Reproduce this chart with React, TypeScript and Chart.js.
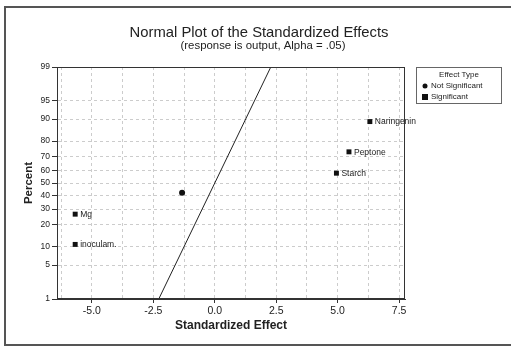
import React, { useEffect, useRef } from 'react';
import { Chart, registerables } from 'chart.js';
Chart.register(...registerables);

// ---- data ----
const effectNames = ['Naringenin', 'Peptone', 'Starch', '', 'Mg', 'inoculam.'];
const effectValues = [6.31, 5.46, 4.95, -1.33, -5.68, -5.68];
const effectPercents = [89.1, 73.4, 57.8, 42.2, 26.6, 10.9];
const effectSignificant = [true, true, true, false, true, true];
const percentTicks = [1, 5, 10, 20, 30, 40, 50, 60, 70, 80, 90, 95, 99];
const xTickValues = [-5, -2.5, 0, 2.5, 5, 7.5];
const xMinorStep = 1.25;
const xRange = [-6.42, 7.74];
const lineMean = 0;
const lineSigma = 0.98;
const linePercents = [0.5, 99.5];

const FONT = "'Liberation Sans', Arial, sans-serif";

// inverse normal CDF (Acklam)
function probit(p: number): number {
  const a = [-3.969683028665376e1, 2.209460984245205e2, -2.759285104469687e2, 1.38357751867269e2, -3.066479806614716e1, 2.506628277459239];
  const b = [-5.447609879822406e1, 1.615858368580409e2, -1.556989798598866e2, 6.680131188771972e1, -1.328068155288572e1];
  const c = [-7.784894002430293e-3, -3.223964580411365e-1, -2.400758277161838, -2.549732539343734, 4.374664141464968, 2.938163982698783];
  const d = [7.784695709041462e-3, 3.224671290700398e-1, 2.445134137142996, 3.754408661907416];
  const pl = 0.02425;
  if (p < pl) {
    const q = Math.sqrt(-2 * Math.log(p));
    return (((((c[0] * q + c[1]) * q + c[2]) * q + c[3]) * q + c[4]) * q + c[5]) / ((((d[0] * q + d[1]) * q + d[2]) * q + d[3]) * q + 1);
  }
  if (p > 1 - pl) {
    const q = Math.sqrt(-2 * Math.log(1 - p));
    return -(((((c[0] * q + c[1]) * q + c[2]) * q + c[3]) * q + c[4]) * q + c[5]) / ((((d[0] * q + d[1]) * q + d[2]) * q + d[3]) * q + 1);
  }
  const q = p - 0.5;
  const r = q * q;
  return (((((a[0] * r + a[1]) * r + a[2]) * r + a[3]) * r + a[4]) * r + a[5]) * q / (((((b[0] * r + b[1]) * r + b[2]) * r + b[3]) * r + b[4]) * r + 1);
}
const pz = (pct: number) => probit(pct / 100);

export default function App() {
  const ref = useRef<HTMLCanvasElement | null>(null);

  useEffect(() => {
    document.body.style.margin = '0';
    const canvas = ref.current!;
    const sigPts: any[] = [];
    const nsPts: any[] = [];
    effectValues.forEach((v, i) => {
      const pt = { x: v, y: pz(effectPercents[i]), label: effectNames[i] };
      (effectSignificant[i] ? sigPts : nsPts).push(pt);
    });
    const linePts = linePercents.map((p) => ({ x: lineMean + lineSigma * pz(p), y: pz(p) }));

    const decor = {
      id: 'decor',
      beforeDraw(chart: any) {
        const { ctx } = chart;
        ctx.save();
        ctx.fillStyle = '#fff';
        ctx.fillRect(0, 0, chart.width, chart.height);
        ctx.restore();
      },
      afterDatasetsDraw(chart: any) {
        const { ctx } = chart;
        ctx.save();
        ctx.font = `8.5px ${FONT}`;
        ctx.fillStyle = '#222';
        ctx.textBaseline = 'middle';
        ctx.textAlign = 'left';
        chart.data.datasets.forEach((ds: any, di: number) => {
          if (ds.type === 'line') return;
          const meta = chart.getDatasetMeta(di);
          meta.data.forEach((el: any, j: number) => {
            const lbl = ds.data[j].label;
            if (lbl) ctx.fillText(lbl, el.x + 5, el.y + 0.5);
          });
        });
        ctx.restore();
      },
      afterDraw(chart: any) {
        const { ctx, chartArea: ca } = chart;
        ctx.save();
        // plot frame
        ctx.strokeStyle = '#333';
        ctx.lineWidth = 1;
        ctx.strokeRect(Math.round(ca.left) + 0.5, Math.round(ca.top) + 0.5, Math.round(ca.right - ca.left) - 1, Math.round(ca.bottom - ca.top) - 1);
        // figure frame
        ctx.strokeStyle = '#555';
        ctx.lineWidth = 2;
        ctx.beginPath();
        ctx.moveTo(511, 7);
        ctx.lineTo(5, 7);
        ctx.lineTo(5, 345);
        ctx.lineTo(511, 345);
        ctx.stroke();
        // titles
        ctx.fillStyle = '#222';
        ctx.textAlign = 'center';
        ctx.textBaseline = 'middle';
        ctx.font = `14.8px ${FONT}`;
        ctx.fillText('Normal Plot of the Standardized Effects', 259, 33);
        ctx.font = `11.4px ${FONT}`;
        ctx.fillText('(response is output, Alpha = .05)', 263, 46);
        // legend
        ctx.strokeStyle = '#666';
        ctx.lineWidth = 1;
        ctx.strokeRect(416.5, 67.5, 85, 36);
        ctx.font = `8px ${FONT}`;
        ctx.fillText('Effect Type', 459, 75);
        ctx.textAlign = 'left';
        ctx.fillText('Not Significant', 431, 86);
        ctx.fillText('Significant', 431, 97);
        ctx.fillStyle = '#111';
        ctx.beginPath();
        ctx.arc(425, 86, 2.5, 0, Math.PI * 2);
        ctx.fill();
        ctx.fillRect(422, 94, 6, 6);
        ctx.restore();
      },
    };

    const zTicks = percentTicks.map((p) => pz(p));
    const chart = new Chart(canvas, {
      type: 'scatter',
      data: {
        datasets: [
          {
            type: 'line',
            data: linePts,
            borderColor: '#222',
            borderWidth: 1,
            pointRadius: 0,
            fill: false,
          } as any,
          {
            data: sigPts,
            pointStyle: 'rect',
            pointRadius: 3.5,
            backgroundColor: '#111',
            borderColor: '#111',
            borderWidth: 0,
          },
          {
            data: nsPts,
            pointStyle: 'circle',
            pointRadius: 3,
            backgroundColor: '#111',
            borderColor: '#111',
            borderWidth: 0,
          },
        ],
      },
      options: {
        animation: false,
        responsive: false,
        events: [],
        layout: { padding: { left: 0, right: 106, top: 67, bottom: 0 } },
        plugins: { legend: { display: false }, tooltip: { enabled: false }, title: { display: false } },
        scales: {
          x: {
            type: 'linear',
            min: xRange[0],
            max: xRange[1],
            afterBuildTicks: (scale: any) => {
              const t: any[] = [];
              for (let v = Math.ceil(xRange[0] / xMinorStep) * xMinorStep; v <= xRange[1] + 1e-9; v += xMinorStep) {
                t.push({ value: Math.round(v * 100) / 100 });
              }
              scale.ticks = t;
            },
            afterFit: (scale: any) => {
              scale.height = 48;
            },
            ticks: {
              autoSkip: false,
              maxRotation: 0,
              padding: 2,
              color: '#222',
              font: { family: FONT, size: 10.5 },
              callback: (v: any) => (xTickValues.some((t) => Math.abs(t - v) < 1e-6) ? Number(v).toFixed(1) : ''),
            },
            grid: {
              color: '#cccccc',
              lineWidth: 1,
              tickLength: 4,
              tickColor: (ctx: any) => (ctx.tick && xTickValues.some((t) => Math.abs(t - ctx.tick.value) < 1e-6) ? '#333' : 'rgba(0,0,0,0)'),
            },
            border: { display: true, color: '#333', width: 1, dash: [3, 3] },
            title: {
              display: true,
              text: 'Standardized Effect',
              color: '#222',
              font: { family: FONT, size: 12, weight: 'bold' },
              padding: { top: 0, bottom: 14 },
            },
          },
          y: {
            type: 'linear',
            min: zTicks[0],
            max: zTicks[zTicks.length - 1],
            afterBuildTicks: (scale: any) => {
              scale.ticks = zTicks.map((z) => ({ value: z }));
            },
            afterFit: (scale: any) => {
              scale.width = 57;
            },
            ticks: {
              autoSkip: false,
              padding: 2,
              color: '#222',
              font: { family: FONT, size: 8.5 },
              callback: (v: any) => {
                let best = percentTicks[0];
                let bd = Infinity;
                percentTicks.forEach((p) => {
                  const d = Math.abs(pz(p) - v);
                  if (d < bd) { bd = d; best = p; }
                });
                return String(best);
              },
            },
            grid: { color: '#cccccc', lineWidth: 1, tickLength: 5, tickColor: '#333' },
            border: { display: true, color: '#333', width: 1, dash: [3, 3] },
            title: {
              display: true,
              text: 'Percent',
              color: '#222',
              font: { family: FONT, size: 11.5, weight: 'bold' },
              padding: { top: 22, bottom: 0 },
            },
          },
        },
      },
      plugins: [decor],
    } as any);
    return () => chart.destroy();
  }, []);

  return <canvas ref={ref} width={511} height={347} style={{ display: 'block', width: 511, height: 347 }} />;
}
